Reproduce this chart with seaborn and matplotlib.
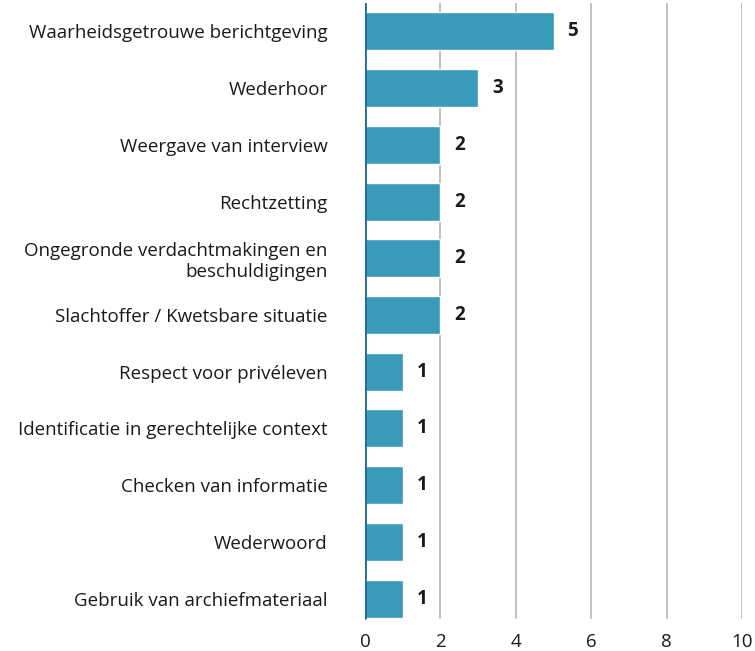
import matplotlib
matplotlib.use("Agg")
import matplotlib.pyplot as plt
import seaborn as sns
import pandas as pd

categories = [
    "Waarheidsgetrouwe berichtgeving",
    "Wederhoor",
    "Weergave van interview",
    "Rechtzetting",
    "Ongegronde verdachtmakingen en\nbeschuldigingen",
    "Slachtoffer / Kwetsbare situatie",
    "Respect voor privéleven",
    "Identificatie in gerechtelijke context",
    "Checken van informatie",
    "Wederwoord",
    "Gebruik van archiefmateriaal",
]
values = [5, 3, 2, 2, 2, 2, 1, 1, 1, 1, 1]
xticks = [0, 2, 4, 6, 8, 10]

df = pd.DataFrame({"cat": categories, "val": values})

sns.set_style("white")
plt.rcParams["font.family"] = ["Open Sans", "DejaVu Sans"]

fig = plt.figure(figsize=(7.55, 6.51), dpi=100)
ax = fig.add_axes([365 / 755, 1 - 627 / 651, 377 / 755, 624 / 651])

sns.barplot(data=df, x="val", y="cat", color="#3a9aba", saturation=1,
            width=0.67, ax=ax, zorder=3)

ax.set_xlim(0, 10)
ax.set_ylim(10.5, -0.5)
ax.set_xticks(xticks)
ax.set_xticklabels([str(t) for t in xticks], fontsize=13.5, color="#1a1a1a")
ax.tick_params(axis="x", length=0, pad=4)
ax.tick_params(axis="y", length=0, pad=27, labelsize=13.5, colors="#1a1a1a")
for lbl in ax.get_yticklabels():
    lbl.set_horizontalalignment("right")
    lbl.set_multialignment("right")
ax.set_xlabel("")
ax.set_ylabel("")
for s in ax.spines.values():
    s.set_visible(False)
ax.grid(False)
for t in xticks[1:]:
    ax.axvline(t, ymin=0.015, ymax=1, color="#b5b5b5", lw=1.2, zorder=1)
ax.axvline(0, ymin=0.015, ymax=1, color="#1f6aa5", lw=2, zorder=4)

for i, v in enumerate(values):
    ax.annotate(str(v), (v, i), xytext=(10, 0), textcoords="offset points",
                va="center", ha="left", fontsize=13.5, fontweight="bold",
                color="#1a1a1a")

fig.savefig("out.png", dpi=100)
